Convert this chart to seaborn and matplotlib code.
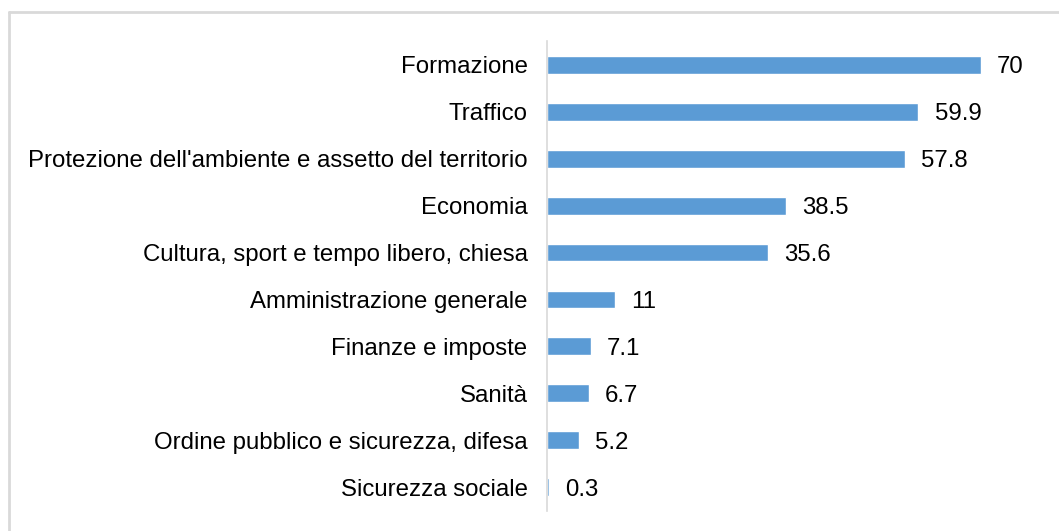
import seaborn as sns
import matplotlib.pyplot as plt
import pandas as pd
from matplotlib.lines import Line2D

categories = [
    "Formazione",
    "Traffico",
    "Protezione dell'ambiente e assetto del territorio",
    "Economia",
    "Cultura, sport e tempo libero, chiesa",
    "Amministrazione generale",
    "Finanze e imposte",
    "Sanità",
    "Ordine pubblico e sicurezza, difesa",
    "Sicurezza sociale",
]
values = [70, 59.9, 57.8, 38.5, 35.6, 11, 7.1, 6.7, 5.2, 0.3]
value_labels = ["70", "59.9", "57.8", "38.5", "35.6", "11", "7.1", "6.7", "5.2", "0.3"]

df = pd.DataFrame({"cat": categories, "val": values})

sns.set_style("white")
plt.rcParams["font.family"] = ["Liberation Sans", "DejaVu Sans"]

fig = plt.figure(figsize=(10.59, 5.31), dpi=100)
ax = fig.add_axes([547 / 1059, 1 - 510.5 / 531, 496 / 1059, 469 / 531])

sns.barplot(data=df, x="val", y="cat", color="#5B9BD5", saturation=1,
            width=0.38, ax=ax)

for i, (v, lab) in enumerate(zip(values, value_labels)):
    ax.text(v + 2.6, i, lab, va="center_baseline", ha="left", fontsize=17.3,
            color="#000000")

ax.set_xlim(0, 80)
ax.set_ylim(9.5, -0.5)
ax.set_xlabel("")
ax.set_ylabel("")
ax.set_xticks([])
ax.tick_params(axis="y", length=0, labelsize=17.3, labelcolor="#000000", pad=14)
for s in ["top", "right", "bottom"]:
    ax.spines[s].set_visible(False)
ax.spines["left"].set_color("#D9D9D9")
ax.spines["left"].set_linewidth(1.2)

# outer frame (left and top edges visible)
fx = 8.5 / 1059
fy = 1 - 11.5 / 531
fig.add_artist(Line2D([fx, fx], [0, fy], transform=fig.transFigure,
                      color="#D9D9D9", linewidth=2))
fig.add_artist(Line2D([fx, 1], [fy, fy], transform=fig.transFigure,
                      color="#D9D9D9", linewidth=2))

plt.savefig("out.png", dpi=100)
